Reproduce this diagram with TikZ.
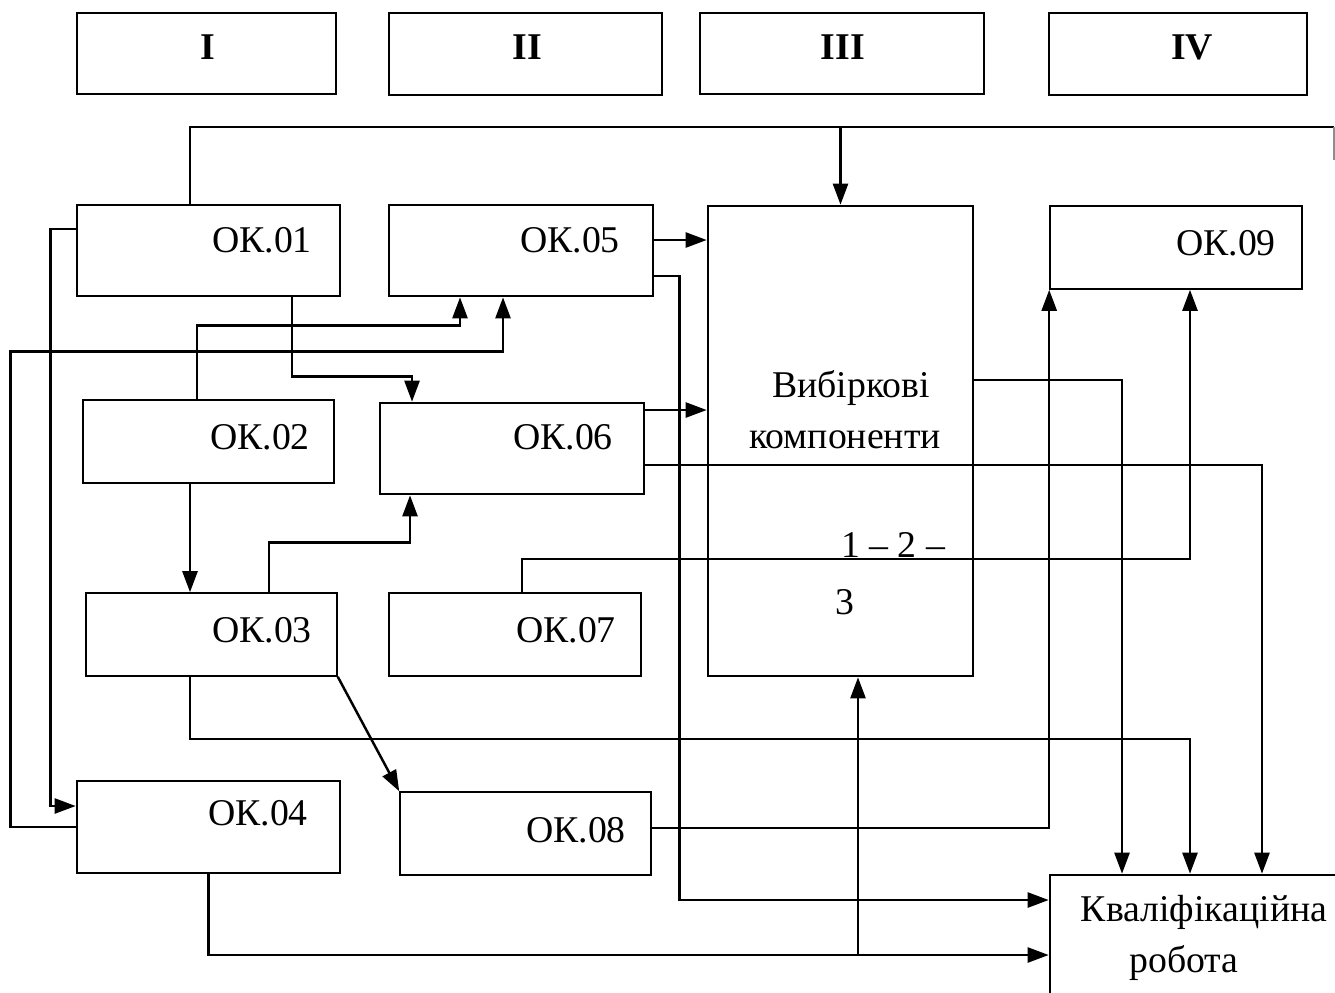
\documentclass[tikz,border=0pt]{standalone}
\usepackage{fontspec}
\setmainfont{Liberation Serif}
\usetikzlibrary{arrows.meta,fit}
\tikzset{
  blk/.style={draw, line width=1.5pt, inner sep=0pt},
  thin/.style={draw, line width=0.9pt, inner sep=0pt},
  ln/.style={line width=1.4pt},
  arr/.style={line width=1.4pt, -{Triangle[length=0.42cm,width=0.3cm]}}
}
\begin{document}
\begin{tikzpicture}[x=0.02cm, y=-0.02cm, font=\fontsize{21.5}{25}\selectfont]
		\clip (0,0) rectangle (1335,992);
		%Заголовки
		\node[blk, fit={(77,13) (336,94)}] (H1) {};
		\node[blk, fit={(389,13) (662,95)}] (H2) {};
		\node[blk, fit={(700,13) (984,94)}] (H3) {};
		\node[blk, fit={(1049,13) (1307,95)}] (H4) {};
		\node (TH1) at (208,47) {\bfseries I};
		\node (TH2) at (527,47) {\bfseries II};
		\node (TH3) at (843,47) {\bfseries III};
		\node (TH4) at (1192,47) {\bfseries IV};
		
		%Блоки дисциплін
		\node[blk, fit={(77,205) (340,296)}] (OK1) {};
		\node[blk, fit={(389,205) (653,296)}] (OK5) {};
		\node[blk, fit={(708,206) (973,676)}] (VB) {};
		\node[thin, fit={(1050,206) (1302,289)}] (OK9) {};
		\node[thin, fit={(83,400) (334,483)}] (OK2) {};
		\node[blk, fit={(380,403) (644,494)}] (OK6) {};
		\node[thin, fit={(86,593) (337,676)}] (OK3) {};
		\node[thin, fit={(389,593) (641,676)}] (OK7) {};
		\node[blk, fit={(77,781) (340,873)}] (OK4) {};
		\node[thin, fit={(400,792) (651,875)}] (OK8) {};
		\node[blk, fit={(1050,875) (1345,1000)}] (KR) {};
		
		\node (T1) at (262,240) {ОК.01};
		\node (T5) at (570,240) {ОК.05};
		\node (T2) at (260,437) {ОК.02};
		\node (T6) at (563,437) {ОК.06};
		\node (T3) at (262,630) {ОК.03};
		\node (T7) at (566,630) {ОК.07};
		\node (T4) at (258,813) {ОК.04};
		\node (T8) at (576,830) {ОК.08};
		\node (T9) at (1226,243) {ОК.09};
		\node (TVB1) at (851,388) {Вибіркові};
		\node (TVB2) at (845,440) {компоненти};
		\node (TVB3) at (893,545) {1 – 2 –};
		\node (TVB4) at (845,602) {3};
		\node (TKR1) at (1204,912) {Кваліфікаційна};
		\node (TKR2) at (1184,963) {робота};
		
		%Зв'язки
		\coordinate (TopR) at (1334,127);
		\draw[ln] ([xshift=-0.37cm]OK1.north) |- (TopR);
		\draw[line width=0.9pt, black!45] (TopR) -- ++(0,-0.66cm);
		\draw[arr] (VB.north |- TopR) -- (VB.north);
		
		\draw[arr] ([yshift=0.43cm]OK1.west) -- ++(-0.5cm,0) |- ([yshift=0.42cm]OK4.west);
		\draw[arr] (OK4.west) -- ++(-1.3cm,0) |- ([xshift=-0.36cm,yshift=-1.08cm]OK5.south) -- ([xshift=-0.36cm]OK5.south);
		\draw[arr] ([xshift=-0.23cm]OK2.north) |- ([xshift=-1.22cm,yshift=-0.56cm]OK5.south) -- ([xshift=-1.22cm]OK5.south);
		\draw[arr] ([xshift=1.67cm]OK1.south) |- ([xshift=-2cm,yshift=0.5cm]OK6.north) -- ([xshift=-2cm]OK6.north);
		\draw[arr] ([xshift=-0.37cm]OK2.south) -- ([xshift=-0.37cm]OK2.south |- OK3.north);
		\draw[arr] ([xshift=1.15cm]OK3.north) |- ([xshift=-2.04cm,yshift=-0.94cm]OK6.south) -- ([xshift=-2.04cm]OK6.south);
		\draw[arr] (OK3.south east) -- (OK8.north west);
		
		\draw[arr] ([yshift=0.21cm]OK5.east) coordinate (a5) -- (a5 -| VB.west);
		\draw[arr] ([yshift=-0.51cm]OK5.east) -- ++(0.5cm,0) |- ([yshift=0.75cm]KR.west);
		\draw[arr] ([yshift=0.77cm]OK6.east) coordinate (a6) -- (a6 -| VB.west);
		\draw[arr] ([yshift=-0.33cm]OK6.east) -| ([xshift=1.29cm]KR.north);
		\draw[arr] ([xshift=0.14cm]OK7.north) -- ++(0,0.66cm) -| ([xshift=0.28cm]OK9.south);
		\draw[arr] ([yshift=1.22cm]VB.east) -| ([xshift=-1.51cm]KR.north);
		\draw[arr] ([xshift=-0.43cm]OK3.south) -- ++(0,-1.24cm) -| ([xshift=-0.15cm]KR.north);
		\draw[arr] ([yshift=0.11cm]OK8.east) -| (OK9.south west);
		\draw[arr] (OK4.south) |- ([yshift=-0.35cm]KR.west) coordinate (kin);
		\draw[arr] ([xshift=0.35cm]VB.south |- kin) -- ([xshift=0.35cm]VB.south);
	\end{tikzpicture}
\end{document}
